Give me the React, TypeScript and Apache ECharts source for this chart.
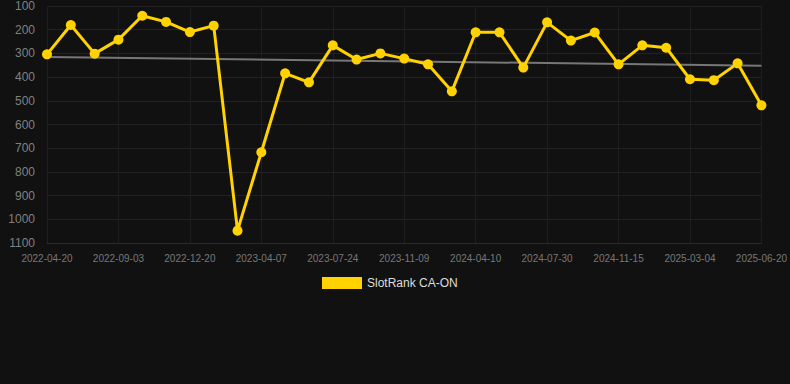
import React, { useEffect, useRef } from "react";
import * as echarts from "echarts";

const dates = [
  "2022-04-20", "2022-06-04", "2022-07-19", "2022-09-03", "2022-10-09", "2022-11-14",
  "2022-12-20", "2023-01-25", "2023-03-02", "2023-04-07", "2023-05-16", "2023-06-15",
  "2023-07-24", "2023-08-29", "2023-10-04", "2023-11-09", "2023-12-30", "2024-02-19",
  "2024-04-10", "2024-05-16", "2024-06-23", "2024-07-30", "2024-09-04", "2024-10-10",
  "2024-11-15", "2024-12-22", "2025-01-27", "2025-03-04", "2025-04-08", "2025-05-14",
  "2025-06-20",
];

const rank = [
  304, 180, 301, 242, 141, 167, 210, 183, 1048, 717, 384, 422, 266, 326, 300, 322,
  346, 460, 211, 211, 360, 169, 246, 212, 346, 266, 276, 409, 413, 342, 519,
];

const trendStart = 315;
const trendEnd = 352;

export default function App() {
  const ref = useRef<HTMLDivElement>(null);
  useEffect(() => {
    if (!ref.current) return;
    const chart = echarts.init(ref.current, undefined, { renderer: "svg" });
    const trend = dates.map((_, i) =>
      i === 0 ? trendStart : i === dates.length - 1 ? trendEnd : null
    );
    chart.setOption({
      animation: false,
      backgroundColor: "#111111",
      grid: { left: 47, right: 28, top: 6, bottom: 141 },
      legend: {
        top: 272,
        left: 317,
        icon: "rect",
        itemWidth: 40,
        itemHeight: 12,
        itemGap: 10,
        data: ["SlotRank CA-ON"],
        textStyle: { color: "#dddddd", fontSize: 12, fontFamily: "Liberation Sans, Arial, sans-serif" },
      },
      xAxis: {
        type: "category",
        data: dates,
        boundaryGap: false,
        axisLine: { show: true, lineStyle: { color: "#2a2a2a" } },
        axisTick: { show: false },
        axisLabel: {
          interval: 2,
          color: "#777777",
          fontSize: 10,
          margin: 10,
          fontFamily: "Liberation Sans, Arial, sans-serif",
        },
        splitLine: { show: true, interval: 2, lineStyle: { color: "#1e1e1e", width: 1 } },
      },
      yAxis: {
        type: "value",
        inverse: true,
        min: 100,
        max: 1100,
        interval: 100,
        axisLine: { show: false },
        axisTick: { show: false },
        axisLabel: {
          color: "#808080",
          fontSize: 12,
          margin: 12,
          formatter: (v: number) => String(v),
          fontFamily: "Liberation Sans, Arial, sans-serif",
        },
        splitLine: { show: true, lineStyle: { color: "#222222", width: 1 } },
      },
      series: [
        {
          name: "Trend",
          type: "line",
          data: trend,
          connectNulls: true,
          symbol: "none",
          lineStyle: { color: "#777777", width: 2 },
          z: 1,
        },
        {
          name: "SlotRank CA-ON",
          type: "line",
          data: rank,
          symbol: "circle",
          symbolSize: 10,
          color: "#FFD200",
          lineStyle: { color: "#FFD200", width: 3 },
          itemStyle: { color: "#FFD200" },
          z: 2,
        },
      ],
    });
    return () => chart.dispose();
  }, []);
  return (
    <div
      ref={ref}
      style={{ position: "absolute", left: 0, top: 0, width: 790, height: 384 }}
    />
  );
}
